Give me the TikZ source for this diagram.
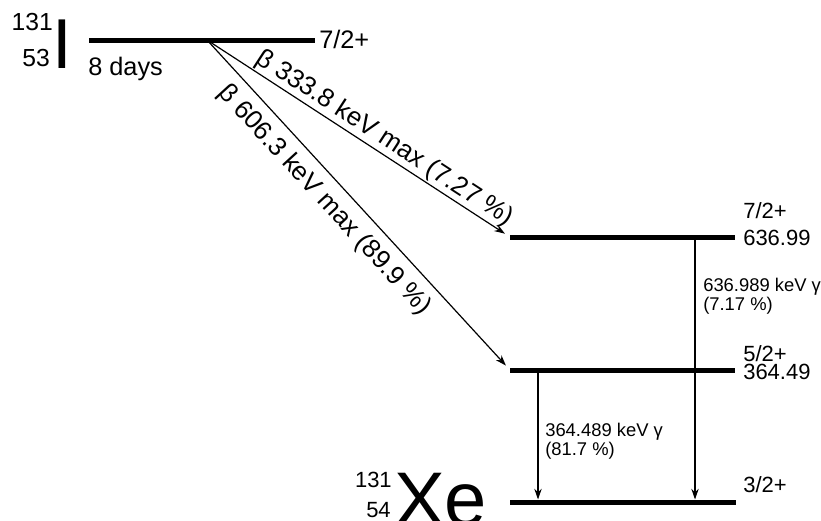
\documentclass[tikz,border=0pt]{standalone}
\usepackage{fontspec}
\setmainfont{Liberation Sans}
\usetikzlibrary{arrows.meta,positioning}
\newcommand{\bigsym}{\fontsize{57}{60}\selectfont}
\newcommand{\midsym}{\fontsize{53}{56}\selectfont}
\newcommand{\toptext}{\fontsize{19}{22}\selectfont}
\newcommand{\lvtext}{\fontsize{16.5}{19}\selectfont}
\newcommand{\betatext}{\fontsize{19.5}{22}\selectfont}
\newcommand{\gamtext}{\fontsize{13.8}{14}\selectfont}

\begin{document}
\begin{tikzpicture}[x=0.75pt,y=-0.75pt,
  level/.style={line width=3.75pt},
  decay/.style={line width=0.9pt,-{Stealth[length=8pt,width=5.5pt]}},
  txt/.style={inner sep=0pt,font=\lvtext},
  ttxt/.style={inner sep=0pt,font=\toptext},
  btxt/.style={inner sep=0pt,font=\betatext,sloped},
  gtxt/.style={inner sep=0pt,font=\gamtext,align=left,anchor=north west}]
\useasboundingbox (0,0) rectangle (821,521);
\coordinate (I0) at (89,40);
\coordinate (I1) at (315,40);
\coordinate (src) at (207,40);
\coordinate (A0) at (510,237);
\coordinate (A1) at (735,237);
\coordinate (B0) at (510,370);
\coordinate (B1) at (735,370);
\coordinate (G0) at (510,502);
\coordinate (G1) at (736,502);
\coordinate (gA) at (695,237);
\coordinate (gB) at (538,370);
\draw[level] (I0) -- (I1);
\draw[level] (A0) -- (A1);
\draw[level] (B0) -- (B1);
\draw[level] (G0) -- (G1);
% parent 131I
\node[ttxt,anchor=base east,font=\fontsize{18.5}{21}\selectfont] (aI) at (53,30.5) {131};
\node[ttxt,anchor=base east,font=\fontsize{18.5}{21}\selectfont] (zI) at (50,66) {53};
\node[inner sep=0pt,font=\midsym,anchor=base] (symI) at (62,68) {I};
\node[ttxt,anchor=base west] (tI) at (88,75) {8 days};
\node[ttxt,anchor=base west] (jI) at (319,48) {7/2+};
% beta branches
\draw[decay,shorten >=4.5pt] (src) -- (A0)
  node[btxt,pos=0.56,above=1pt] (bA) {β 333.8 keV max (7.27 \%)};
\draw[decay,shorten >=4.5pt] (src) -- (B0)
  node[btxt,pos=0.44,below=7pt] (bB) {β 606.3 keV max (89.9 \%)};
% gamma lines
\draw[decay,shorten >=1.9pt] (gA) -- (gA |- G0);
\draw[decay,shorten >=1.9pt] (gB) -- (gB |- G0);
\node[gtxt] (gamA) at (703,278) {636.989 keV γ\\(7.17 \%)};
\node[gtxt] (gamB) at (545,423) {364.489 keV γ\\(81.7 \%)};
% levels of 131Xe
\node[txt,anchor=base west] (jA) at (743,218) {7/2+};
\node[txt,anchor=base west] (eA) at (743,245) {636.99};
\node[txt,anchor=base west] (jB) at (743,361) {5/2+};
\node[txt,anchor=base west] (eB) at (743,379) {364.49};
\node[txt,anchor=base west] (jG) at (743,492) {3/2+};
\node[txt,anchor=base east] (aXe) at (392,487) {131};
\node[txt,anchor=base east] (zXe) at (391,517) {54};
\node[inner sep=0pt,font=\bigsym,anchor=base west] (symXe) at (394,525) {Xe};
\end{tikzpicture}
\end{document}
